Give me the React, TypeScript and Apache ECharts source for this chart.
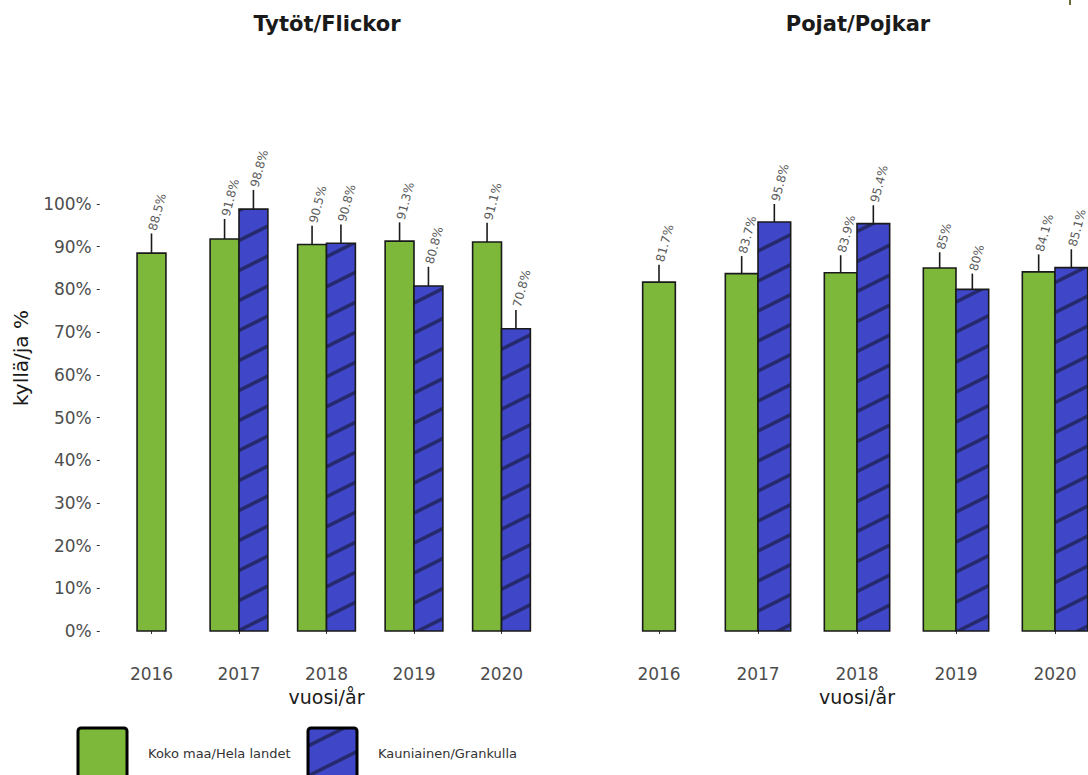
import React, { useEffect, useRef } from 'react';
import * as echarts from 'echarts';

const years = ['2016', '2017', '2018', '2019', '2020'];
const girlsNational = [88.5, 91.8, 90.5, 91.3, 91.1];
const girlsNationalUpper = [93.1, 96.5, 94.9, 95.7, 95.6];
const girlsLocal: (number | null)[] = [null, 98.8, 90.8, 80.8, 70.8];
const girlsLocalUpper: (number | null)[] = [null, 103.3, 95.2, 85.3, 75.2];
const boysNational = [81.7, 83.7, 83.9, 85, 84.1];
const boysNationalUpper = [85.8, 87.8, 88.0, 88.7, 88.2];
const boysLocal: (number | null)[] = [null, 95.8, 95.4, 80, 85.1];
const boysLocalUpper: (number | null)[] = [null, 100.0, 99.7, 83.7, 89.4];
const panelTitles = ['Tytöt/Flickor', 'Pojat/Pojkar'];
const seriesNames = ['Koko maa/Hela landet', 'Kauniainen/Grankulla'];
const yAxisTitle = 'kyllä/ja %';
const xAxisTitle = 'vuosi/år';

const GREEN = '#7db83b';
const BLUE = '#3f47c8';
const STRIPE = '#262a6c';
const FONT = 'DejaVu Sans';

function makeHatch() {
  const w = 60, h = 30;
  const c = document.createElement('canvas');
  c.width = w; c.height = h;
  const ctx = c.getContext('2d')!;
  ctx.fillStyle = BLUE;
  ctx.fillRect(0, 0, w, h);
  ctx.strokeStyle = STRIPE;
  ctx.lineWidth = 3.5;
  for (const k of [0, h, 2 * h]) {
    ctx.beginPath();
    ctx.moveTo(-2, k + 2 * h / w);
    ctx.lineTo(w + 2, k - h - 2 * h / w);
    ctx.stroke();
  }
  return { image: c.toDataURL(), repeat: 'repeat', imageWidth: w, imageHeight: h };
}

function toData(vals: (number | null)[], upper: (number | null)[]) {
  const out: number[][] = [];
  vals.forEach((v, i) => {
    if (v != null) out.push([i, v, upper[i] as number]);
  });
  return out;
}

function makeRender(kind: 'national' | 'local', otherVals: (number | null)[], fill: any) {
  return (params: any, api: any) => {
    const cat = api.value(0);
    const val = api.value(1);
    const up = api.value(2);
    const band = api.size([1, 0])[0];
    const bw = band * 0.33;
    const basePt = api.coord([cat, 0]);
    const center = basePt[0];
    const paired = otherVals[cat] != null;
    let x0: number;
    if (!paired) x0 = center - bw / 2;
    else x0 = kind === 'national' ? center - bw : center;
    const top = api.coord([cat, val])[1];
    const errTop = api.coord([cat, up])[1];
    const xc = x0 + bw / 2;
    return {
      type: 'group',
      children: [
        {
          type: 'line',
          shape: { x1: xc, y1: top, x2: xc, y2: errTop },
          style: { stroke: '#1a1a1a', lineWidth: 1.6 },
        },
        {
          type: 'rect',
          shape: { x: x0, y: top, width: bw, height: basePt[1] - top },
          style: { fill, stroke: '#1a1a1a', lineWidth: 1.6 },
        },
        {
          type: 'text',
          x: xc + 1,
          y: errTop - 3,
          rotation: (75 * Math.PI) / 180,
          style: {
            text: `${val}%`,
            fill: '#5a5a5a',
            fontSize: 12,
            fontFamily: FONT,
            align: 'left',
            verticalAlign: 'middle',
          },
        },
      ],
    };
  };
}

export default function App() {
  const ref = useRef<HTMLDivElement>(null);
  useEffect(() => {
    if (!ref.current) return;
    const chart = echarts.init(ref.current, undefined, { renderer: 'svg' });
    const hatch = makeHatch();

    const grids = [
      { left: 107.75, top: 204, width: 437.5, height: 427, outerBoundsMode: 'none', containLabel: false },
      { left: 609.5, top: 204, width: 495, height: 427, outerBoundsMode: 'none', containLabel: false },
    ];
    const xAxes = [0, 1].map((g) => ({
      type: 'category',
      gridIndex: g,
      data: years,
      boundaryGap: true,
      offset: 28,
      axisLine: { show: false },
      axisTick: { show: true, alignWithLabel: true, length: 3, lineStyle: { color: '#333', width: 1 } },
      axisLabel: { fontSize: 17, color: '#4d4d4d', margin: 6, fontFamily: FONT },
      splitLine: { show: false },
    }));
    const yAxes = [0, 1].map((g) => ({
      type: 'value',
      gridIndex: g,
      min: 0,
      max: 100,
      interval: 10,
      offset: 8,
      show: g === 0,
      axisLine: { show: false },
      axisTick: { show: g === 0, length: 3, lineStyle: { color: '#333', width: 1 } },
      axisLabel: { show: g === 0, formatter: '{value}%', fontSize: 17, color: '#4d4d4d', margin: 8, fontFamily: FONT },
      splitLine: { show: false },
    }));

    const panels = [
      { nat: girlsNational, natUp: girlsNationalUpper, loc: girlsLocal, locUp: girlsLocalUpper },
      { nat: boysNational, natUp: boysNationalUpper, loc: boysLocal, locUp: boysLocalUpper },
    ];
    const series: any[] = [];
    panels.forEach((p, g) => {
      series.push({
        type: 'custom',
        name: seriesNames[0],
        xAxisIndex: g,
        yAxisIndex: g,
        clip: false,
        renderItem: makeRender('national', p.loc, GREEN),
        data: toData(p.nat, p.natUp),
      });
      series.push({
        type: 'custom',
        name: seriesNames[1],
        xAxisIndex: g,
        yAxisIndex: g,
        clip: false,
        renderItem: makeRender('local', p.nat, hatch),
        data: toData(p.loc, p.locUp),
      });
    });

    const graphic: any[] = [
      { type: 'text', x: 327, y: 24, style: { text: panelTitles[0], fontSize: 21, fontWeight: 'bold', fontFamily: FONT, fill: '#1a1a1a', align: 'center', verticalAlign: 'middle' } },
      { type: 'text', x: 858, y: 24, style: { text: panelTitles[1], fontSize: 21, fontWeight: 'bold', fontFamily: FONT, fill: '#1a1a1a', align: 'center', verticalAlign: 'middle' } },
      { type: 'text', x: 21, y: 358, rotation: Math.PI / 2, style: { text: yAxisTitle, fontSize: 20, fontFamily: FONT, fill: '#1a1a1a', align: 'center', verticalAlign: 'middle' } },
      { type: 'text', x: 326.5, y: 697, style: { text: xAxisTitle, fontSize: 19, fontFamily: FONT, fill: '#1a1a1a', align: 'center', verticalAlign: 'middle' } },
      { type: 'text', x: 857, y: 697, style: { text: xAxisTitle, fontSize: 19, fontFamily: FONT, fill: '#1a1a1a', align: 'center', verticalAlign: 'middle' } },
      { type: 'rect', shape: { x: 78, y: 728, width: 49, height: 60, r: 3 }, style: { fill: GREEN, stroke: '#000', lineWidth: 3 } },
      { type: 'text', x: 148, y: 753, style: { text: seriesNames[0], fontSize: 13, fontFamily: FONT, fill: '#333', align: 'left', verticalAlign: 'middle' } },
      { type: 'rect', shape: { x: 308, y: 728, width: 49, height: 60, r: 3 }, style: { fill: hatch, stroke: '#000', lineWidth: 3 } },
      { type: 'text', x: 378, y: 753, style: { text: seriesNames[1], fontSize: 13, fontFamily: FONT, fill: '#333', align: 'left', verticalAlign: 'middle' } },
      { type: 'rect', shape: { x: 1069, y: 0, width: 2, height: 5 }, style: { fill: '#6b6b3a' } },
    ];

    chart.setOption({
      animation: false,
      backgroundColor: '#ffffff',
      grid: grids,
      xAxis: xAxes,
      yAxis: yAxes,
      series,
      graphic,
    });
    return () => chart.dispose();
  }, []);
  return <div ref={ref} style={{ position: 'fixed', left: 0, top: 0, width: 1088, height: 775 }} />;
}
